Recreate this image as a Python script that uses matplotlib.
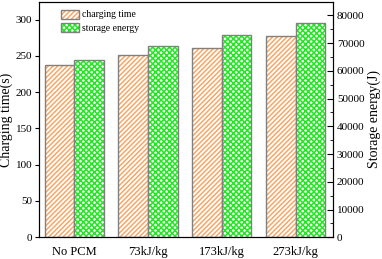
import matplotlib

matplotlib.use("Agg")
import matplotlib.pyplot as plt  # noqa: E402
import numpy as np  # noqa: E402
from matplotlib.patches import Patch  # noqa: E402
from matplotlib.ticker import MultipleLocator  # noqa: E402

categories = ["No PCM", "73kJ/kg", "173kJ/kg", "273kJ/kg"]
charging_time = [237, 251, 261, 278]
storage_energy = [64000, 69000, 72800, 77300]

ORANGE = "#F7A766"
GREEN = "#22E822"
EDGE = "#808080"
H_OR = "///////"
H_GR = "xxxxxx"

plt.rcParams["font.family"] = ["Liberation Serif", "DejaVu Serif"]
plt.rcParams["hatch.linewidth"] = 1.1

fig = plt.figure(figsize=(3.82, 2.59), dpi=100)
ax = fig.add_axes([0.103, 0.084, 0.768, 0.91])
ax2 = ax.twinx()

x = np.arange(len(categories))
w = 0.4

# hatch drawn in its own colour, grey outline drawn on top
ax.bar(x - w / 2, charging_time, w, color="white", edgecolor=ORANGE, hatch=H_OR, linewidth=0)
ax.bar(x - w / 2, charging_time, w, color="none", edgecolor=EDGE, linewidth=1.0)
ax2.bar(x + w / 2, storage_energy, w, color="white", edgecolor=GREEN, hatch=H_GR, linewidth=0)
ax2.bar(x + w / 2, storage_energy, w, color="none", edgecolor=EDGE, linewidth=1.0)

ax.set_xlim(-0.47, 3.5)
ax.set_ylim(0, 325)
ax2.set_ylim(0, 85000)
ax.set_xticks(x)
ax.set_xticklabels(categories, fontsize=9)
ax.tick_params(axis="x", length=0, pad=6)
ax.yaxis.set_major_locator(MultipleLocator(50))
ax.tick_params(axis="y", direction="out", length=3, labelsize=8, pad=2)
ax2.yaxis.set_major_locator(MultipleLocator(10000))
ax2.yaxis.set_minor_locator(MultipleLocator(5000))
ax2.tick_params(axis="y", which="major", direction="in", length=4, labelsize=8, pad=3)
ax2.tick_params(axis="y", which="minor", direction="in", length=2)
ax.set_ylabel("Charging time(s)", fontsize=10, labelpad=2)
ax2.set_ylabel("Storage energy(J)", fontsize=10, labelpad=2)

h1 = (Patch(facecolor="white", edgecolor=ORANGE, hatch=H_OR, linewidth=0),
      Patch(facecolor="none", edgecolor=EDGE, linewidth=1.0))
h2 = (Patch(facecolor="white", edgecolor=GREEN, hatch=H_GR, linewidth=0),
      Patch(facecolor="none", edgecolor=EDGE, linewidth=1.0))
ax.legend([h1, h2], ["charging time", "storage energy"], loc="upper left",
          bbox_to_anchor=(0.075, 0.965), frameon=False, fontsize=7,
          borderpad=0, borderaxespad=0,
          handlelength=1.8, handleheight=1.0, handletextpad=0.3, labelspacing=0.35)

fig.savefig("out.png", dpi=100)
